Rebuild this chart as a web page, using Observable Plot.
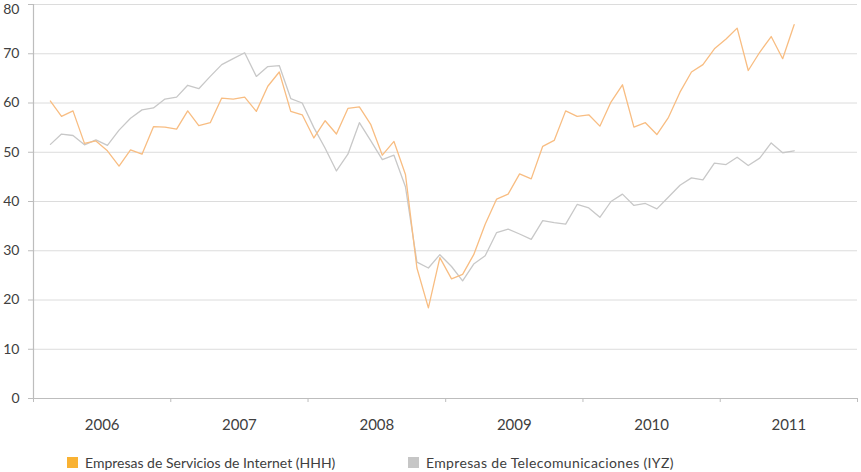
<!DOCTYPE html>
<html>
<head>
<meta charset="utf-8">
<script src="https://cdn.jsdelivr.net/npm/d3@7"></script>
<script src="https://cdn.jsdelivr.net/npm/@observablehq/plot@0.6"></script>
<style>
  html, body { margin: 0; padding: 0; background: #ffffff; }
  #chart { width: 861px; }
  #legend { position: relative; height: 27px; font-family: Lato, "Open Sans", sans-serif; font-size: 14px; color: #404040; }
  .item { position: absolute; top: 9px; display: flex; align-items: center; white-space: nowrap; }
  .sw { width: 11px; height: 11px; margin-right: 7px; }
</style>
</head>
<body>
<div id="chart"></div>
<div id="legend"></div>
<script>
// Monthly series, first value = February 2006, last = July 2011
const startYear = 2006;
const startMonth = 1; // 0-based: February
const seriesNames = ["Empresas de Servicios de Internet (HHH)", "Empresas de Telecomunicaciones (IYZ)"];
const seriesColors = ["#f8bd82", "#c8c8c8"];
const legendColors = ["#f9b233", "#c6c6c6"];

const hhh = [60.4, 57.3, 58.4, 51.8, 52.3, 50.3, 47.2, 50.5, 49.6, 55.2, 55.1, 54.7,
             58.4, 55.4, 56.0, 61.0, 60.8, 61.2, 58.3, 63.4, 66.3, 58.3, 57.6, 52.9,
             56.4, 53.7, 58.9, 59.2, 55.6, 49.4, 52.2, 45.5, 26.5, 18.4, 28.6, 24.3,
             25.2, 29.2, 35.4, 40.5, 41.5, 45.6, 44.6, 51.2, 52.4, 58.4, 57.3, 57.6,
             55.3, 60.2, 63.7, 55.1, 56.0, 53.6, 57.1, 62.2, 66.3, 67.8, 71.0, 73.0,
             75.2, 66.6, 70.3, 73.5, 69.0, 75.9];
const iyz = [51.6, 53.7, 53.4, 51.5, 52.5, 51.4, 54.5, 56.9, 58.6, 59.0, 60.8, 61.2,
             63.6, 62.9, 65.4, 67.8, 69.0, 70.2, 65.4, 67.4, 67.6, 60.9, 60.0, 55.0,
             50.8, 46.2, 49.6, 56.0, 52.3, 48.5, 49.4, 43.0, 27.7, 26.5, 29.2, 26.8,
             23.9, 27.3, 29.0, 33.7, 34.4, 33.4, 32.3, 36.1, 35.7, 35.4, 39.4, 38.7,
             36.8, 40.0, 41.5, 39.2, 39.6, 38.5, 40.9, 43.3, 44.8, 44.4, 47.8, 47.5,
             49.0, 47.3, 48.8, 51.9, 49.9, 50.3];
const years = [2006, 2007, 2008, 2009, 2010, 2011];
const yTicks = [0, 10, 20, 30, 40, 50, 60, 70, 80];

const monthMid = (i) => {
  const a = Date.UTC(startYear, startMonth + i, 1);
  const b = Date.UTC(startYear, startMonth + i + 1, 1);
  return new Date((a + b) / 2);
};
const rows = [];
[hhh, iyz].forEach((vals, s) => vals.forEach((v, i) => rows.push({date: monthMid(i), value: v, series: seriesNames[s]})));

const yearStarts = years.concat([years[years.length - 1] + 1]).map(y => new Date(Date.UTC(y, 0, 1)));
const yearMids = years.map(y => new Date((Date.UTC(y, 0, 1) + Date.UTC(y + 1, 0, 1)) / 2));
const xDomain = [yearStarts[0], yearStarts[yearStarts.length - 1]];
const yMax = yTicks[yTicks.length - 1];

const chart = Plot.plot({
  width: 861,
  height: 445,
  marginLeft: 33,
  marginRight: 4,
  marginTop: 4,
  marginBottom: 47,
  style: {fontFamily: "Lato, 'Open Sans', sans-serif", background: "#ffffff"},
  x: {type: "utc", domain: xDomain},
  y: {domain: [0, yMax]},
  color: {domain: seriesNames, range: seriesColors},
  marks: [
    Plot.ruleY(yTicks.filter(d => d > 0), {stroke: "#dcdcdc", strokeWidth: 1}),
    Plot.ruleY([0], {stroke: "#bdbdbd", strokeWidth: 1.2}),
    Plot.ruleX([xDomain[0]], {stroke: "#bdbdbd", strokeWidth: 1.2}),
    Plot.axisY({ticks: yTicks, tickSize: 5, tickFormat: () => "", stroke: "#bdbdbd", label: null}),
    Plot.axisY({ticks: yTicks.filter(d => d < yMax), tickSize: 0, tickPadding: 14, fontSize: 14, fill: "#404040", label: null}),
    Plot.axisY({ticks: [yMax], tickSize: 0, tickPadding: 14, dy: 5, fontSize: 14, fill: "#404040", label: null}),
    Plot.axisX({ticks: yearStarts, tickSize: 4, tickFormat: () => "", stroke: "#bdbdbd", label: null}),
    Plot.axisX({ticks: yearMids, tickSize: 0, tickPadding: 21, tickFormat: d => String(d.getUTCFullYear()), fontSize: 15, fill: "#404040", label: null}),
    Plot.line(rows, {x: "date", y: "value", z: "series", stroke: "series", strokeWidth: 1.3})
  ]
});
document.getElementById("chart").appendChild(chart);
// draw orange above gray: reverse order of line paths
chart.querySelectorAll("g[aria-label='line'] path").forEach(p => p.parentNode.insertBefore(p, p.parentNode.firstChild));

const legend = document.getElementById("legend");
const lefts = [67, 408];
seriesNames.forEach((name, i) => {
  const item = document.createElement("div");
  item.className = "item";
  item.style.left = lefts[i] + "px";
  const sw = document.createElement("div");
  sw.className = "sw";
  sw.style.background = legendColors[i];
  const t = document.createElement("span");
  t.textContent = name;
  if (i === 1) t.style.letterSpacing = "0.35px";
  item.appendChild(sw);
  item.appendChild(t);
  legend.appendChild(item);
});
</script>
</body>
</html>
